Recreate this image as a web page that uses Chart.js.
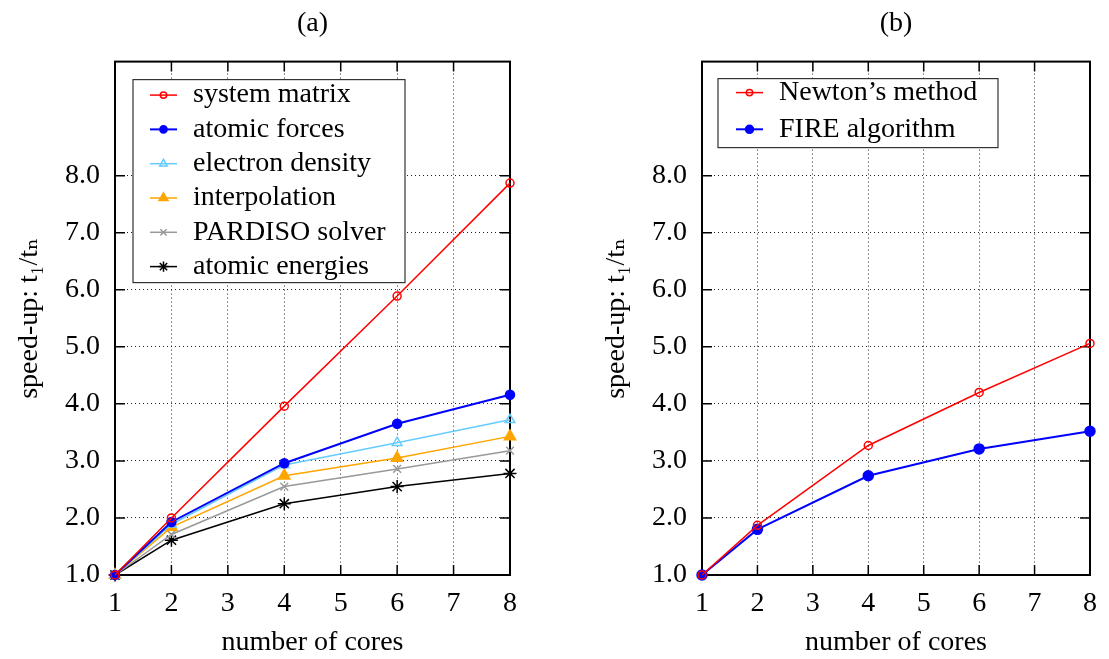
<!DOCTYPE html>
<html>
<head>
<meta charset="utf-8">
<script src="https://cdn.jsdelivr.net/npm/chart.js@4/dist/chart.umd.min.js"></script>
<style>
  html, body { margin: 0; padding: 0; background: #fff; }
  body { width: 1109px; height: 659px; position: relative; overflow: hidden; }
  .panel { position: absolute; top: 0; height: 659px; }
  #wrapA { left: 0; width: 555px; }
  #wrapB { left: 587px; width: 522px; }
</style>
</head>
<body>
<div class="panel" id="wrapA"><canvas id="chartA"></canvas></div>
<div class="panel" id="wrapB"><canvas id="chartB"></canvas></div>
<script>
// ---- data ----
const cores = [1, 2, 4, 6, 8];
const systemMatrix    = [1.0, 2.00, 3.96, 5.89, 7.87];
const atomicForces    = [1.0, 1.93, 2.96, 3.65, 4.16];
const electronDensity = [1.0, 1.89, 2.93, 3.32, 3.72];
const interpolation   = [1.0, 1.84, 2.74, 3.05, 3.43];
const pardisoSolver   = [1.0, 1.71, 2.55, 2.86, 3.18];
const atomicEnergies  = [1.0, 1.61, 2.25, 2.55, 2.78];
const newtonMethod    = [1.0, 1.87, 3.27, 4.20, 5.06];
const fireAlgorithm   = [1.0, 1.80, 2.74, 3.21, 3.52];
const xTickValues = [1, 2, 3, 4, 5, 6, 7, 8];
const yTickValues = [1, 2, 3, 4, 5, 6, 7, 8];
const panelTitles = ['(a)', '(b)'];
const xAxisTitle = 'number of cores';
const yAxisTitle = 'speed-up: t\u2081/t\u2099';

const FONT = "'Liberation Serif', 'Times New Roman', 'DejaVu Serif', serif";

function series(label, values, color, pointStyle, radius, filled, lineWidth) {
  return {
    label: label,
    data: cores.map((c, i) => ({ x: c, y: values[i] })),
    borderColor: color,
    backgroundColor: filled ? color : 'rgba(0,0,0,0)',
    pointBackgroundColor: filled ? color : 'rgba(0,0,0,0)',
    pointBorderColor: color,
    pointStyle: pointStyle,
    pointRadius: radius,
    pointBorderWidth: 1.5,
    borderWidth: lineWidth || 1.5,
    tension: 0,
    clip: false
  };
}

const framePlugin = {
  id: 'frame',
  beforeDatasetsDraw(chart) {
    const { ctx, chartArea: ca } = chart;
    const xs = chart.scales.x, ys = chart.scales.y;
    const tl = 10;
    ctx.save();
    ctx.strokeStyle = '#000';
    ctx.lineWidth = 1.5;
    ctx.beginPath();
    xTickValues.forEach(v => {
      const px = xs.getPixelForValue(v);
      ctx.moveTo(px, ca.bottom); ctx.lineTo(px, ca.bottom - tl);
      ctx.moveTo(px, ca.top); ctx.lineTo(px, ca.top + tl);
    });
    yTickValues.forEach(v => {
      const py = ys.getPixelForValue(v);
      ctx.moveTo(ca.left, py); ctx.lineTo(ca.left + tl, py);
      ctx.moveTo(ca.right, py); ctx.lineTo(ca.right - tl, py);
    });
    ctx.stroke();
    ctx.lineWidth = 2;
    ctx.strokeRect(ca.left, ca.top, ca.right - ca.left, ca.bottom - ca.top);
    ctx.restore();
  }
};

const boxLegendPlugin = {
  id: 'boxLegend',
  afterDraw(chart, args, opts) {
    const { ctx, chartArea: ca } = chart;
    const bx = ca.left + opts.dx, by = ca.top + opts.dy;
    ctx.save();
    ctx.fillStyle = '#fff';
    ctx.fillRect(bx, by, opts.w, opts.h);
    ctx.strokeStyle = '#333';
    ctx.lineWidth = 1.2;
    ctx.strokeRect(bx, by, opts.w, opts.h);
    ctx.font = '28px ' + FONT;
    ctx.textBaseline = 'middle';
    ctx.textAlign = 'left';
    chart.data.datasets.forEach((ds, i) => {
      const y = by + opts.first + i * opts.step;
      const x0 = bx + opts.lx0, x1 = bx + opts.lx1;
      ctx.strokeStyle = ds.borderColor;
      ctx.lineWidth = ds.borderWidth;
      ctx.beginPath(); ctx.moveTo(x0, y); ctx.lineTo(x1, y); ctx.stroke();
      ctx.fillStyle = ds.pointBackgroundColor;
      ctx.strokeStyle = ds.pointBorderColor;
      ctx.lineWidth = ds.pointBorderWidth;
      Chart.helpers.drawPoint(ctx, { pointStyle: ds.pointStyle, radius: ds.pointRadius * 0.8, rotation: 0, borderWidth: ds.pointBorderWidth }, (x0 + x1) / 2, y);
      ctx.fillStyle = '#000';
      ctx.fillText(ds.label, bx + opts.tx, y);
    });
    ctx.restore();
  }
};

function makeChart(id, title, datasets, rightPad, legendOpts) {
  return new Chart(document.getElementById(id), {
    type: 'line',
    data: { datasets: datasets },
    plugins: [framePlugin, boxLegendPlugin],
    options: {
      responsive: true,
      maintainAspectRatio: false,
      animation: false,
      layout: { padding: { left: 0, right: rightPad, top: 0, bottom: 0 } },
      plugins: {
        legend: { display: false },
        tooltip: { enabled: false },
        title: {
          display: true, text: title, fullSize: false, color: '#000',
          font: { family: FONT, size: 28, weight: 'normal', lineHeight: 1.2 },
          padding: { top: 7, bottom: 21 }
        },
        boxLegend: legendOpts
      },
      scales: {
        x: {
          type: 'linear', min: 1, max: 8,
          afterFit: s => { s.height = 84; },
          afterBuildTicks: s => { s.ticks = xTickValues.map(v => ({ value: v })); },
          grid: { color: '#222', lineWidth: 1, drawTicks: false },
          border: { display: false, dash: [1, 3] },
          ticks: { color: '#000', padding: 12, font: { family: FONT, size: 28, lineHeight: 1.2 }, maxRotation: 0, autoSkip: false,
                   callback: v => String(v) },
          title: { display: true, text: xAxisTitle, color: '#000', padding: { top: 0, bottom: 0 },
                   font: { family: FONT, size: 28, lineHeight: 1.2 } }
        },
        y: {
          type: 'linear', min: 1, max: 10,
          afterFit: s => { s.width = 115; },
          afterBuildTicks: s => { s.ticks = yTickValues.map(v => ({ value: v })); },
          grid: { color: '#222', lineWidth: 1, drawTicks: false },
          border: { display: false, dash: [1, 3] },
          ticks: { color: '#000', padding: 15, font: { family: FONT, size: 28, lineHeight: 1.2 }, autoSkip: false,
                   callback: v => Number(v).toFixed(1) },
          title: { display: true, text: yAxisTitle, color: '#000', padding: { top: 13, bottom: 0 },
                   font: { family: FONT, size: 28, lineHeight: 1.2 } }
        }
      }
    }
  });
}

makeChart('chartA', panelTitles[0], [
  series('system matrix', systemMatrix, '#ff0000', 'circle', 4, false, 1.5),
  series('atomic forces', atomicForces, '#0000ff', 'circle', 4.5, true, 2),
  series('electron density', electronDensity, '#66ccff', 'triangle', 5.5, false, 1.5),
  series('interpolation', interpolation, '#ffa500', 'triangle', 6.5, true, 1.5),
  series('PARDISO solver', pardisoSolver, '#999999', 'crossRot', 5.5, false, 1.5),
  series('atomic energies', atomicEnergies, '#000000', 'star', 6.5, false, 1.5)
], 45, { dx: 18, dy: 18, w: 272, h: 203, first: 15.5, step: 34.3, lx0: 17, lx1: 44, tx: 60 });

makeChart('chartB', panelTitles[1], [
  series('Newton\u2019s method', newtonMethod, '#ff0000', 'circle', 4, false, 1.5),
  series('FIRE algorithm', fireAlgorithm, '#0000ff', 'circle', 5, true, 2)
], 13, { dx: 16, dy: 17, w: 280, h: 69, first: 14, step: 36.7, lx0: 18, lx1: 45, tx: 61 });
</script>
</body>
</html>
